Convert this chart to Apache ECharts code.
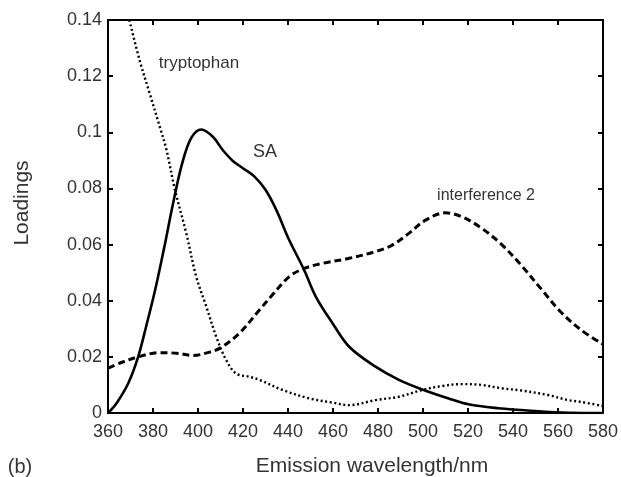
<!DOCTYPE html>
<html>
<head>
<meta charset="utf-8">
<script src="https://cdn.jsdelivr.net/npm/echarts@6/dist/echarts.min.js"></script>
<style>html,body{margin:0;padding:0;background:#fff;}#c{width:621px;height:477px;}</style>
</head>
<body>
<div id="c"></div>
<script>
// x tick labels (nm) and y tick range
var xTicks = [360, 380, 400, 420, 440, 460, 480, 500, 520, 540, 560, 580];
var yTicks = [0, 0.02, 0.04, 0.06, 0.08, 0.1, 0.12, 0.14];

// SA (solid)
var saX = [360, 363.8, 369, 373.4, 377, 381, 385, 389, 393, 397, 401.5, 406.6, 411, 415.5, 420, 425, 430, 435, 440, 447.2, 452.4, 459.8, 467.2, 478.9, 489.3, 499.6, 511.4, 520.2, 533.5, 548, 565, 580];
var saY = [0, 0.0035, 0.0106, 0.02, 0.031, 0.044, 0.059, 0.075, 0.089, 0.098, 0.101, 0.0984, 0.0937, 0.0898, 0.0872, 0.0843, 0.0795, 0.072, 0.0625, 0.0509, 0.0414, 0.032, 0.0236, 0.0165, 0.0118, 0.0084, 0.0052, 0.0031, 0.0017, 0.0008, 0.0001, 0];

// interference 2 (dashed)
var intX = [360, 366, 373.4, 383, 390.4, 397.8, 405.2, 410, 418.4, 427.3, 433, 440.6, 447.2, 455.3, 467.2, 478.9, 486.3, 493.7, 501.1, 509.9, 517.3, 526.1, 535, 543.8, 552.7, 561.5, 570.4, 580];
var intY = [0.016, 0.018, 0.02, 0.0215, 0.0213, 0.0205, 0.0217, 0.0232, 0.0284, 0.0367, 0.042, 0.0486, 0.0515, 0.0533, 0.0551, 0.0575, 0.0598, 0.064, 0.0687, 0.0713, 0.0699, 0.0658, 0.06, 0.0525, 0.044, 0.0358, 0.0295, 0.0245];

// tryptophan (dotted)
var trpX = [369.5, 374, 378.5, 383, 386, 389.6, 394.8, 399.2, 403.7, 408.1, 412.5, 416.9, 422.9, 427.3, 437.6, 449.5, 459.8, 467.2, 478.9, 489.3, 499.6, 508.5, 517.3, 526.1, 535, 543.8, 555.6, 564.5, 570, 580];
var trpY = [0.14, 0.1258, 0.1139, 0.102, 0.0937, 0.08, 0.064, 0.0486, 0.0379, 0.0272, 0.0189, 0.0141, 0.0129, 0.0118, 0.0082, 0.0052, 0.0037, 0.0028, 0.0046, 0.0058, 0.0082, 0.0096, 0.0103, 0.01, 0.0088, 0.008, 0.0064, 0.0046, 0.004, 0.0025];

function pairs(xs, ys) { return xs.map(function (x, i) { return [x, ys[i]]; }); }

var FONT = 'Liberation Sans, Arial, Helvetica, sans-serif';
var TXT = '#333';
var xMin = xTicks[0], xMax = xTicks[xTicks.length - 1];
var yMin = yTicks[0], yMax = yTicks[yTicks.length - 1];

var chart = echarts.init(document.getElementById('c'), null, {renderer: 'canvas'});

function axisBase() {
  return {
    axisLine: {show: true, onZero: false, lineStyle: {color: '#000', width: 2}},
    axisTick: {show: true, inside: true, length: 5, lineStyle: {color: '#000', width: 2}},
    splitLine: {show: false}
  };
}

var xBottom = Object.assign(axisBase(), {
  type: 'value', position: 'bottom', min: xMin, max: xMax, interval: 20,
  axisLabel: {show: true, color: TXT, fontSize: 18, fontFamily: FONT, margin: 10}
});
var xTop = Object.assign(axisBase(), {
  type: 'value', position: 'top', min: xMin, max: xMax, interval: 20,
  axisLabel: {show: false}
});
var yLeft = Object.assign(axisBase(), {
  type: 'value', position: 'left', min: yMin, max: yMax, interval: 0.02,
  axisLabel: {show: true, color: TXT, fontSize: 18, fontFamily: FONT, margin: 6}
});
var yRight = Object.assign(axisBase(), {
  type: 'value', position: 'right', min: yMin, max: yMax, interval: 0.02,
  axisLabel: {show: false}
});

chart.setOption({
  animation: false,
  backgroundColor: '#fff',
  grid: {left: 108, right: 16, top: 20, bottom: 64, containLabel: false},
  xAxis: [xBottom, xTop],
  yAxis: [yLeft, yRight],
  series: [
    {
      name: 'SA', type: 'line', xAxisIndex: 0, yAxisIndex: 0,
      data: pairs(saX, saY), showSymbol: false, smooth: 0.35, clip: true,
      lineStyle: {color: '#000', width: 2.6, type: 'solid'}
    },
    {
      name: 'interference 2', type: 'line', xAxisIndex: 0, yAxisIndex: 0,
      data: pairs(intX, intY), showSymbol: false, smooth: 0.35, clip: true,
      lineStyle: {color: '#000', width: 3, type: [7, 4]}
    },
    {
      name: 'tryptophan', type: 'line', xAxisIndex: 0, yAxisIndex: 0,
      data: pairs(trpX, trpY), showSymbol: false, smooth: 0.35, clip: true,
      lineStyle: {color: '#000', width: 2.4, type: [2, 2.6]}
    }
  ],
  graphic: [
    {type: 'text', x: 199, y: 63, style: {text: 'tryptophan', fill: TXT, font: '17px ' + FONT, align: 'center', verticalAlign: 'middle'}},
    {type: 'text', x: 265, y: 152, style: {text: 'SA', fill: TXT, font: '18px ' + FONT, align: 'center', verticalAlign: 'middle'}},
    {type: 'text', x: 486, y: 196, style: {text: 'interference 2', fill: TXT, font: '16px ' + FONT, align: 'center', verticalAlign: 'middle'}},
    {type: 'text', x: 22, y: 203, rotation: Math.PI / 2, style: {text: 'Loadings', fill: TXT, font: '21px ' + FONT, align: 'center', verticalAlign: 'middle'}},
    {type: 'text', x: 20, y: 467, style: {text: '(b)', fill: TXT, font: '20px ' + FONT, align: 'center', verticalAlign: 'middle'}},
    {type: 'text', x: 372, y: 466, style: {text: 'Emission wavelength/nm', fill: TXT, font: '21px ' + FONT, align: 'center', verticalAlign: 'middle'}}
  ]
});
</script>
</body>
</html>
